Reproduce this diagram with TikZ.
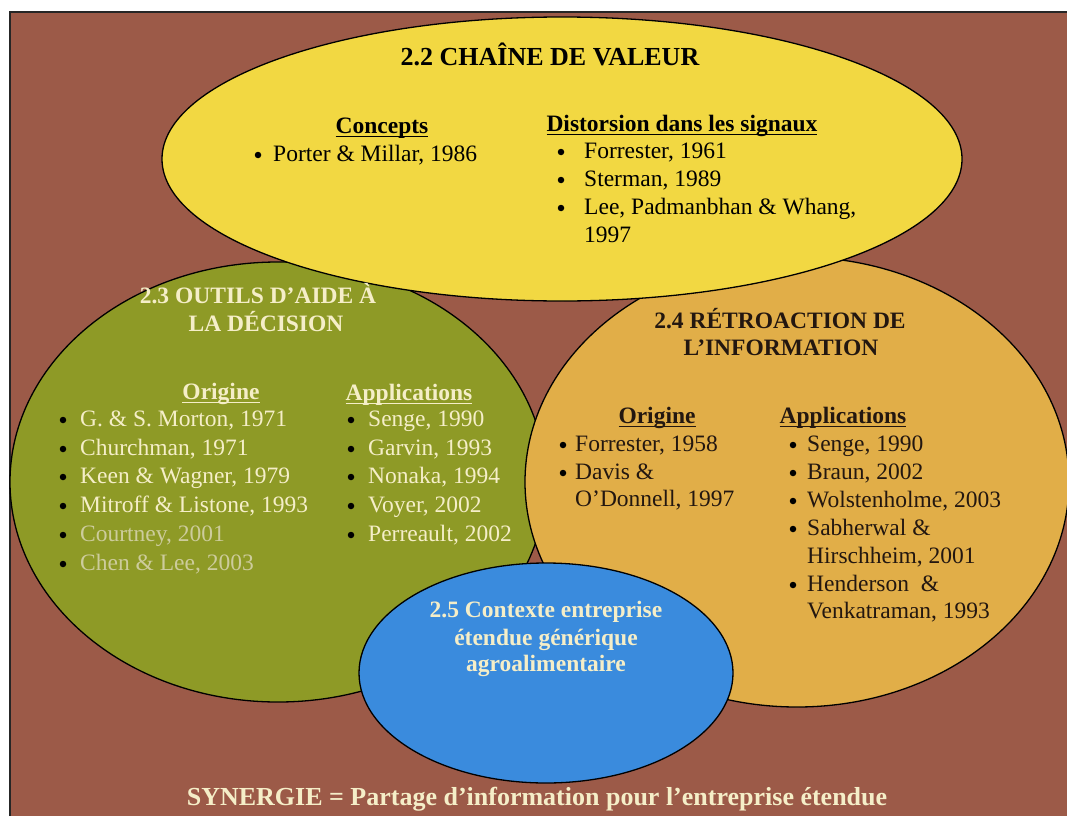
\documentclass[tikz,border=0pt]{standalone}
\usepackage{fontspec}
\setmainfont{Liberation Serif}
\definecolor{bgbrown}{HTML}{9C5A48}
\definecolor{vyellow}{HTML}{F2D842}
\definecolor{vgreen}{HTML}{8E9A26}
\definecolor{vorange}{HTML}{E1AE48}
\definecolor{vblue}{HTML}{3A8BDD}
\definecolor{cream}{HTML}{F5EEC8}
\definecolor{dimcream}{HTML}{CDCC9C}
\definecolor{darkink}{HTML}{231710}
% heading with a firm underline in the current text colour
\newcommand\hdul[1]{\setbox0\hbox{#1}\rlap{\rule[-3.5pt]{\wd0}{1.4pt}}\box0}
\begin{document}
\begin{tikzpicture}[x=1pt,y=-1pt,
  zone/.style={draw=black, line width=1.3pt},
  body/.style={font=\fontsize{23.5}{28}\selectfont, inner sep=0pt,
    text height=16pt, text depth=5pt},
  item/.style={body, anchor=west},
  dot/.style={circle, fill=black, inner sep=0pt, minimum size=6.5pt},
  head/.style={body, font=\fontsize{23.5}{28}\selectfont\bfseries, anchor=center},
  title/.style={font=\fontsize{23.5}{28}\selectfont\bfseries, inner sep=0pt,
    text height=16pt, text depth=5pt, anchor=center},
  bigtitle/.style={title, font=\fontsize{26}{30}\selectfont\bfseries}]

% canvas and framed brown panel
\useasboundingbox (0,0) rectangle (1067,816);
\fill[white] (0,0) rectangle (1067,816);
\fill[bgbrown] (10,12) rectangle (1067,816);
\draw[black!85, line width=1.2pt] (10,816) -- (10,12) -- (1067,12);

% the four domains
\filldraw[zone, fill=vgreen]  (278,482) ellipse [x radius=268pt, y radius=220pt];
\filldraw[zone, fill=vorange] (797,482) ellipse [x radius=272pt, y radius=225pt];
\filldraw[zone, fill=vyellow] (562,159) ellipse [x radius=400pt, y radius=142pt];
\filldraw[zone, fill=vblue]   (546,673) ellipse [x radius=187pt, y radius=110pt];

% 2.2 value chain
\node[bigtitle] (t22) at (550,60) {2.2 CHAÎNE DE VALEUR};
\node[head] (h22a) at (382,128) {\hdul{Concepts}};
\node[dot] (b22a) at (258,155) {};
\node[item] (i22a) at (273,156) {Porter \& Millar, 1986};
\node[head] (h22b) at (682,126) {\hdul{Distorsion dans les signaux}};
\foreach \n/\t/\yy in {1/{Forrester, 1961}/153, 2/{Sterman, 1989}/181,
    3/{Lee, Padmanbhan \& Whang,}/209} {
  \node[dot] (b22\n) at (561,\yy-1) {};
  \node[item] (i22\n) at (584,\yy) {\t};
}
\node[item] (i224) at (584,237) {1997};

% 2.3 decision support tools
\begin{scope}[text=cream]
\node[title] (t23a) at (258,298) {2.3 OUTILS D’AIDE À};
\node[title] (t23b) at (266,326) {LA DÉCISION};
\node[head] (h23a) at (221,394) {\hdul{Origine}};
\node[head] (h23b) at (409,395) {\hdul{Applications}};
\foreach \n/\t/\yy in {1/{G. \& S. Morton, 1971}/421, 2/{Churchman, 1971}/450,
    3/{Keen \& Wagner, 1979}/478, 4/{Mitroff \& Listone, 1993}/507} {
  \node[dot] (b23o\n) at (63,\yy-1) {};
  \node[item] (i23o\n) at (80,\yy) {\t};
}
\foreach \n/\t/\yy in {5/{Courtney, 2001}/536, 6/{Chen \& Lee, 2003}/565} {
  \node[dot] (b23o\n) at (63,\yy-1) {};
  \node[item, text=dimcream] (i23o\n) at (80,\yy) {\t};
}
\foreach \n/\t/\yy in {1/{Senge, 1990}/421, 2/{Garvin, 1993}/450,
    3/{Nonaka, 1994}/478, 4/{Voyer, 2002}/507, 5/{Perreault, 2002}/536} {
  \node[dot] (b23a\n) at (351,\yy-1) {};
  \node[item] (i23a\n) at (368,\yy) {\t};
}
\end{scope}

% 2.4 information feedback
\begin{scope}[text=darkink]
\node[title] (t24a) at (780,323) {2.4 RÉTROACTION DE};
\node[title] (t24b) at (781,350) {L’INFORMATION};
\node[head] (h24a) at (657,418) {\hdul{Origine}};
\node[head] (h24b) at (843,418) {\hdul{Applications}};
\node[dot] (b24o1) at (563,445) {};
\node[item] (i24o1) at (575,446) {Forrester, 1958};
\node[dot] (b24o2) at (563,473) {};
\node[item] (i24o2) at (575,474) {Davis \&};
\node[item] (i24o3) at (575,501) {O’Donnell, 1997};
\foreach \n/\t/\yy in {1/{Senge, 1990}/446, 2/{Braun, 2002}/474,
    3/{Wolstenholme, 2003}/502, 4/{Sabherwal \&}/530, 6/{Henderson \ \&}/586} {
  \node[dot] (b24a\n) at (793,\yy-1) {};
  \node[item] (i24a\n) at (807,\yy) {\t};
}
\node[item] (i24a5) at (807,558) {Hirschheim, 2001};
\node[item] (i24a7) at (807,613) {Venkatraman, 1993};
\end{scope}

% 2.5 extended enterprise context
\begin{scope}[text=cream]
\node[title] (t25a) at (546,612) {2.5 Contexte entreprise};
\node[title] (t25b) at (546,640) {étendue générique};
\node[title] (t25c) at (546,666) {agroalimentaire};
\node[title, font=\fontsize{26}{30}\selectfont\bfseries] (syn) at (537,800)
  {SYNERGIE = Partage d’information pour l’entreprise étendue};
\end{scope}
\end{tikzpicture}
\end{document}
